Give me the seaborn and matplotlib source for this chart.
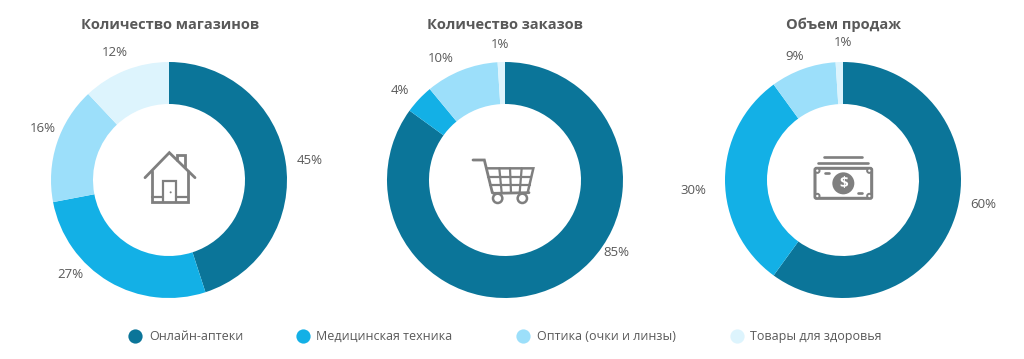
import matplotlib
matplotlib.use("Agg")
import matplotlib.pyplot as plt
from matplotlib.patches import Circle, FancyBboxPatch
import seaborn as sns

categories = ["Онлайн-аптеки", "Медицинская техника", "Оптика (очки и линзы)", "Товары для здоровья"]
titles = ["Количество магазинов", "Количество заказов", "Объем продаж"]
stores = [45, 27, 16, 12]
orders = [85, 4, 10, 1]
sales = [60, 30, 9, 1]
colors = ["#0B7599", "#13B0E6", "#9CDFFA", "#DDF4FD"]

W, H = 1024, 359
TXT = "#595959"
ICON = "#7F7F7F"

sns.set_theme(style="white")
plt.rcParams["font.family"] = ["Open Sans", "DejaVu Sans"]

fig = plt.figure(figsize=(W / 100, H / 100), dpi=100, facecolor="white")

centers = [169, 505, 843]
cy, R, r = 180, 118, 76
series = [stores, orders, sales]
pad = 2
label_pos = [
    [(310, 160), (70, 274), (43, 129), (115, 53)],
    [(616, 252), (400, 90), (441, 58), (500, 44)],
    [(983, 204), (693, 191), (795, 57), (843, 43)],
]
title_pos = [(170, 25), (505, 25), (843, 25)]

for cx, vals in zip(centers, series):
    ax = fig.add_axes([(cx - R - pad) / W, 1 - (cy + R + pad) / H,
                       2 * (R + pad) / W, 2 * (R + pad) / H])
    ax.pie(vals, colors=colors, startangle=90, counterclock=False, radius=R / (R + pad),
           wedgeprops=dict(width=(R - r) / (R + pad), linewidth=0))
    ax.set_xlim(-1, 1)
    ax.set_ylim(-1, 1)
    ax.set_aspect("equal")
    ax.axis("off")

ov = fig.add_axes([0, 0, 1, 1], zorder=5)
ov.set_xlim(0, W)
ov.set_ylim(H, 0)
ov.axis("off")
ov.patch.set_alpha(0)

for name, (x, y) in zip(titles, title_pos):
    ov.text(x, y, name, ha="center", va="center", fontsize=10.5, fontweight="bold", color=TXT)

for vals, poss in zip(series, label_pos):
    for v, (x, y) in zip(vals, poss):
        ov.text(x, y, f"{v}%", ha="center", va="center", fontsize=9.5, color=TXT)

# legend
for name, col, mx, tx in zip(categories, colors, [135, 303, 523, 737], [149, 316, 537, 750]):
    ov.scatter([mx], [336], s=105, color=col, linewidths=0)
    ov.text(tx, 336.5, name, ha="left", va="center", fontsize=9, color=TXT)


def polyline(ox, oy, pts, lw=2.0, color=ICON):
    ov.plot([ox + p[0] / 3 for p in pts], [oy + p[1] / 3 for p in pts], color=color, lw=lw,
            solid_capstyle="round", solid_joinstyle="miter")


# house icon
hx, hy = 120, 130
polyline(hx, hy, [(75, 143), (148, 68), (225, 143)])
polyline(hx, hy, [(97, 122), (97, 215), (203, 215), (203, 122)])
polyline(hx, hy, [(172, 90), (172, 75), (194, 75), (194, 112)])
polyline(hx, hy, [(97, 200), (130, 200)], lw=1.6)
polyline(hx, hy, [(167, 200), (203, 200)], lw=1.6)
polyline(hx, hy, [(130, 215), (130, 152), (167, 152), (167, 215)], lw=1.6)
ov.add_patch(Circle((hx + 152 / 3, hy + 187 / 3), 1, color=ICON, lw=0))

# cart icon
kx, ky = 455, 140
polyline(kx, ky, [(54, 60), (88, 60), (112, 158), (116, 160), (222, 158)])
polyline(kx, ky, [(95, 85), (235, 85), (218, 158)], lw=1.8)
for yy, x0, x1 in [(110, 100, 229), (135, 106, 224)]:
    polyline(kx, ky, [(x0, yy), (x1, yy)], lw=1.6)
for x0, x1 in [(133, 140), (165, 168), (200, 194)]:
    polyline(kx, ky, [(x0, 85), (x1, 158)], lw=1.6)
for wx in [128, 202]:
    ov.add_patch(Circle((kx + wx / 3, ky + 175 / 3), 14 / 3, fc="white", ec=ICON, lw=1.8))

# money icon
mx0, my0 = 795, 140
polyline(mx0, my0, [(88, 50), (202, 50)], lw=1.9)
polyline(mx0, my0, [(70, 68), (218, 68)], lw=1.9)
ov.add_patch(FancyBboxPatch((mx0 + 60 / 3, my0 + 85 / 3), 170 / 3, 90 / 3,
                            boxstyle="round,pad=0,rounding_size=1.5", fc="white", ec=ICON, lw=2.2))
ov.add_patch(Circle((mx0 + 145 / 3, my0 + 130 / 3), 33 / 3, color=ICON, lw=0))
ov.text(mx0 + 145 / 3, my0 + 130 / 3, "$", ha="center", va="center", fontsize=11,
        fontweight="bold", color="white")
for px, py in [(67, 92), (223, 92), (67, 168), (223, 168)]:
    ov.add_patch(Circle((mx0 + px / 3, my0 + py / 3), 2.2, fc="white", ec=ICON, lw=1.4))
polyline(mx0, my0, [(90, 100), (101, 100)], lw=1.9)
polyline(mx0, my0, [(189, 158), (200, 158)], lw=1.9)

fig.savefig("out.png", dpi=100, facecolor="white")
